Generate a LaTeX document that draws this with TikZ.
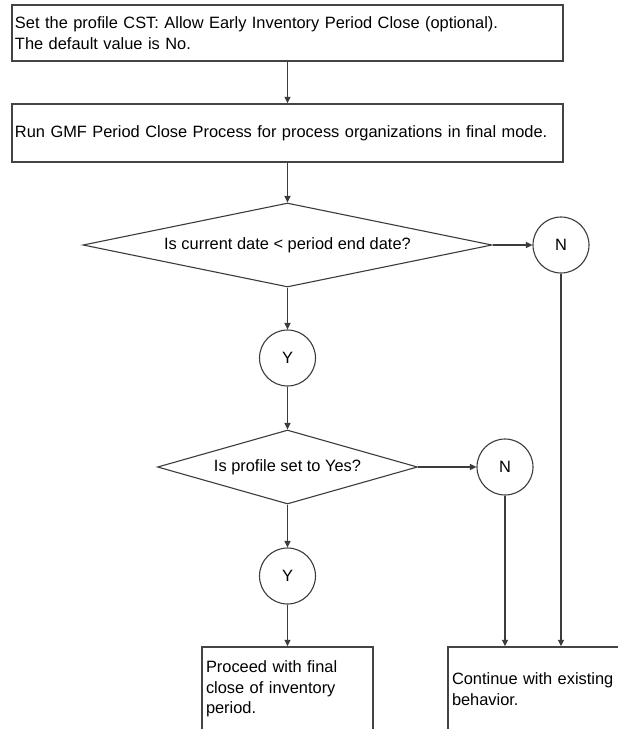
\documentclass[tikz,border=0pt]{standalone}
\usepackage{fontspec}
\setmainfont{Liberation Sans}
\usetikzlibrary{shapes.geometric,arrows.meta}

\definecolor{edgeclr}{HTML}{3C3C3C}
\definecolor{boxclr}{HTML}{444444}

\begin{document}
\begin{tikzpicture}[x=1pt,y=-1pt,
  every node/.style={font=\fontsize{16.4}{20.5}\selectfont, text=black},
  procbox/.style={draw=boxclr, line width=1.5pt, rectangle, align=left,
    inner xsep=3pt, inner ysep=0pt},
  decision/.style={draw=edgeclr, line width=1.1pt, diamond, inner sep=0pt},
  answer/.style={draw=edgeclr, line width=1.1pt, circle, inner sep=0pt,
    minimum size=56pt},
  flow/.style={draw=edgeclr, line width=1.1pt,
    -{Triangle[length=6.5pt,width=6pt]}}
]
% page extent and background
\useasboundingbox (0,0) rectangle (618,729);
\fill[white] (0,0) rectangle (618,729);

% process boxes
\node[procbox, minimum width=551pt, minimum height=56pt, text width=545pt]
  (setprofile) at (287.5,33)
  {Set the profile CST: Allow Early Inventory Period Close (optional).\\
   The default value is No.};
\node[procbox, minimum width=551pt, minimum height=58pt, text width=545pt]
  (runclose) at (287.5,133)
  {Run GMF Period Close Process for process organizations in final mode.};

% decisions
\node[decision, minimum width=409pt, minimum height=84pt, aspect=4.9]
  (datecheck) at (287.5,245) {Is current date < period end date?};
\node[decision, minimum width=260pt, minimum height=74pt, aspect=3.5]
  (profcheck) at (287.5,467) {Is profile set to Yes?};

% answer circles
\node[answer] (noA)  at (561,245) {N};
\node[answer] (yesA) at (287.5,358) {Y};
\node[answer] (noB)  at (505,467) {N};
\node[answer] (yesB) at (287.5,576) {Y};

% outcome boxes
\node[procbox, minimum width=171pt, minimum height=84pt, text width=163pt]
  (proceed) at (287.5,689)
  {Proceed with final\\close of inventory\\period.};
\node[procbox, minimum width=197pt, minimum height=84pt, text width=189pt]
  (existing) at (546.5,689)
  {Continue with existing\\behavior.};

% connectors
\draw[flow] (setprofile) -- (runclose);
\draw[flow] (runclose) -- (datecheck.north);
\draw[flow] (datecheck.east) -- (noA.west);
\draw[flow] (datecheck.south) -- (yesA.north);
\draw[flow] (yesA.south) -- (profcheck.north);
\draw[flow] (profcheck.east) -- (noB.west);
\draw[flow] (profcheck.south) -- (yesB.north);
\draw[flow] (yesB.south) -- (proceed.north);
\draw[flow] (noB.south) -- (noB.south |- existing.north);
\draw[flow] (noA.south) -- (noA.south |- existing.north);
\end{tikzpicture}
\end{document}
